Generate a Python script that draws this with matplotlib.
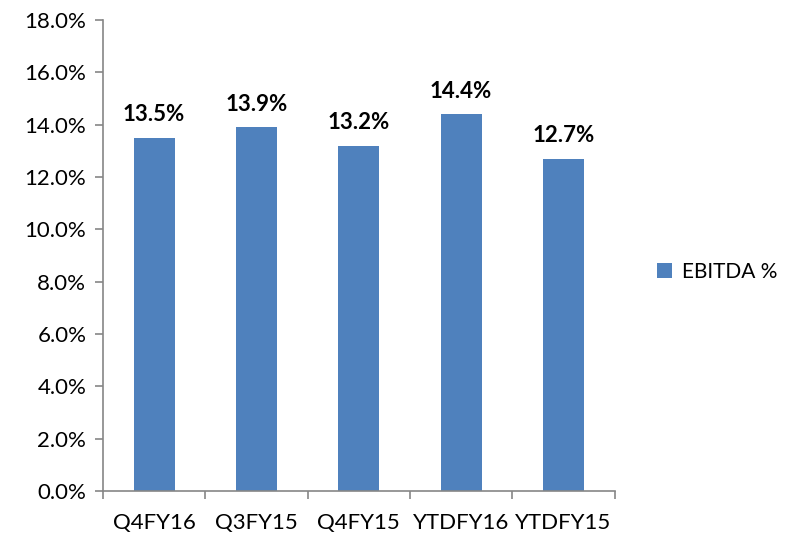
import matplotlib.pyplot as plt
import numpy as np
from matplotlib.ticker import FuncFormatter, FixedLocator

categories = ["Q4FY16", "Q3FY15", "Q4FY15", "YTDFY16", "YTDFY15"]
ebitda_pct = [13.5, 13.9, 13.2, 14.4, 12.7]

plt.rcParams['font.family'] = ['Lato', 'DejaVu Sans']

fig = plt.figure(figsize=(7.86, 5.38), dpi=100)
ax = fig.add_axes([0.131, 0.087, 0.651, 0.876])

x = np.arange(len(categories))
ax.bar(x, ebitda_pct, width=0.4, color="#4F81BD", label="EBITDA %", zorder=2)

for xi, v in zip(x, ebitda_pct):
    ax.annotate(f"{v:.1f}%", (xi, v), xytext=(0, 9), textcoords="offset points",
                ha="center", va="bottom", fontsize=16, fontweight="bold")

ax.set_xlim(-0.5, len(categories) - 0.5)
ax.set_ylim(0, 18)
ax.set_yticks(np.arange(0, 18.1, 2))
ax.yaxis.set_major_formatter(FuncFormatter(lambda v, p: f"{v:.1f}%"))

# x ticks on category boundaries, labels centered
ax.set_xticks(x)
ax.set_xticklabels(categories)
ax.xaxis.set_minor_locator(FixedLocator(np.arange(-0.5, len(categories), 1)))
ax.tick_params(axis="x", which="major", length=0, pad=16, labelsize=16)
ax.tick_params(axis="x", which="minor", length=6, color="#868686", width=1.2)
ax.tick_params(axis="y", length=6, color="#868686", width=1.2, labelsize=16, pad=6)

for side in ["top", "right"]:
    ax.spines[side].set_visible(False)
for side in ["left", "bottom"]:
    ax.spines[side].set_color("#868686")
    ax.spines[side].set_linewidth(1.2)

ax.legend(loc="center left", bbox_to_anchor=(1.055, 0.465), frameon=False,
          fontsize=15, handlelength=0.7, handleheight=0.7, handletextpad=0.5,
          borderpad=0.2)

plt.savefig("out.png", dpi=100)
